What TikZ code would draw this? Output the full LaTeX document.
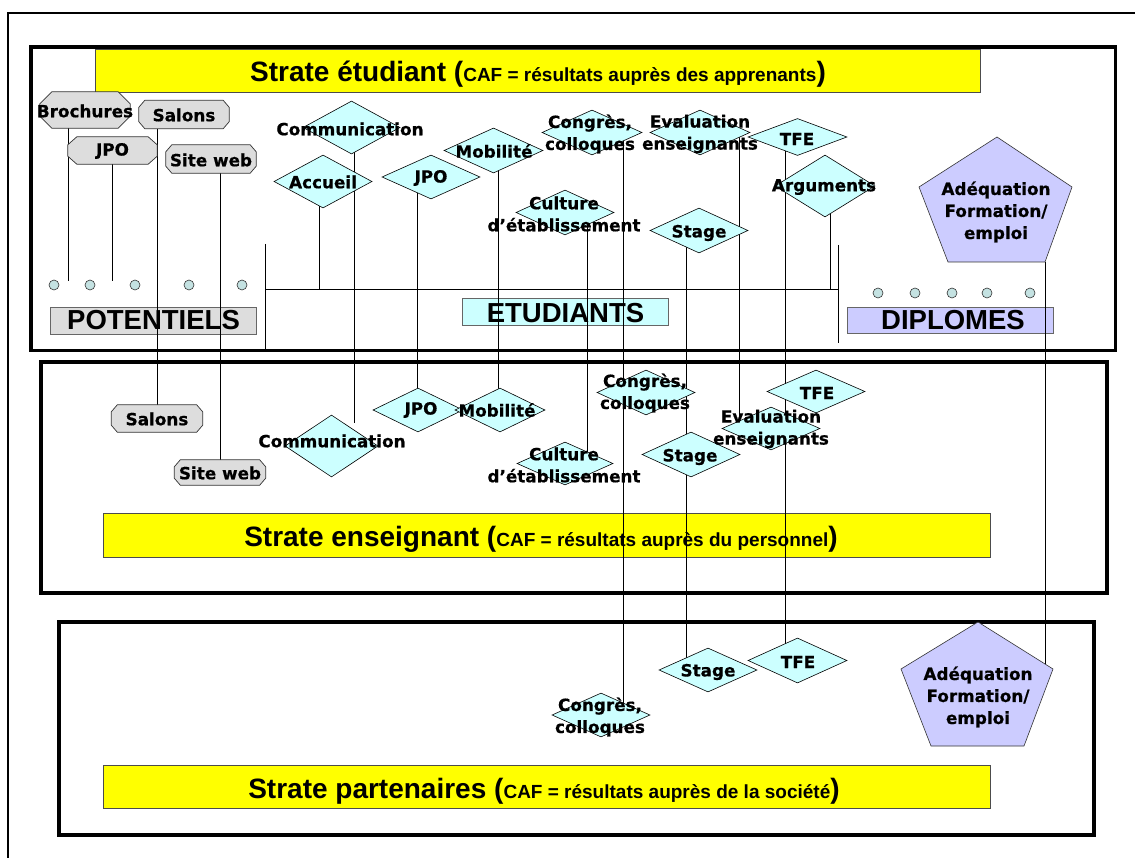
\documentclass[tikz,border=0pt]{standalone}
\usepackage{fontspec}
\setmainfont{Liberation Sans}
\newfontfamily\labfont{DejaVu Sans Bold}[FakeBold=0.6]
\usetikzlibrary{shapes.geometric,calc}
\pgfdeclarelayer{back}
\pgfdeclarelayer{mid}
\pgfsetlayers{back,mid,main}

\definecolor{barfill}{HTML}{FFFF00}
\definecolor{cyanfill}{HTML}{CCFFFF}
\definecolor{greyfill}{HTML}{DDDDDD}
\definecolor{lavfill}{HTML}{CCCCFF}
\definecolor{dotfill}{HTML}{C4E2E2}

\tikzset{
  frame/.style={line width=3.8pt, draw=black},
  titlebar/.style={fill=barfill, draw=black!70, line width=0.8pt},
  titletext/.style={anchor=base, inner sep=0pt, font=\fontsize{28}{30}\selectfont\bfseries},
  bigbox/.style={draw=black!60, line width=0.8pt, inner sep=0pt, anchor=north west},
  bigtext/.style={anchor=base, inner sep=0pt, font=\fontsize{27.5}{30}\selectfont\bfseries},
  link/.style={line width=0.8pt, draw=black},
  choice/.style={diamond, draw=black, line width=0.6pt, fill=cyanfill, inner sep=0pt},
  lab/.style={inner sep=0pt, align=center, font=\labfont\fontsize{16.8}{22}\selectfont},
  medium/.style={rectangle, inner sep=0pt},
  mediumline/.style={draw=black!80, line width=0.7pt, fill=greyfill},
  pentshape/.style={draw=black!80, line width=0.6pt, fill=lavfill},
  dot/.style={circle, draw=black!80, line width=0.6pt, fill=dotfill, inner sep=0pt, minimum size=10pt},
}
\newcommand{\smallcaf}{\fontsize{19}{20}\selectfont}
\newcommand{\bigcaf}{\fontsize{28}{30}\selectfont}
% octagonal outline around a node: #1 node, #2 horizontal cut, #3 vertical cut
\newcommand{\octoframe}[3]{%
  \path[mediumline] ($(#1.north west)+(#2,0)$) -- ($(#1.north east)+(-#2,0)$)
    -- ($(#1.north east)+(0,#3)$) -- ($(#1.south east)+(0,-#3)$)
    -- ($(#1.south east)+(-#2,0)$) -- ($(#1.south west)+(#2,0)$)
    -- ($(#1.south west)+(0,-#3)$) -- ($(#1.north west)+(0,#3)$) -- cycle;}

\begin{document}
\begin{tikzpicture}[x=1pt,y=-1pt]
\useasboundingbox (0,0) rectangle (1135,858);

% ---------- frames, title bars and audience boxes ----------
\begin{pgfonlayer}{back}
  \draw[line width=1.5pt] (8,880) -- (8,13) -- (1160,13);
  \draw[frame] (31,47) rectangle (1115.5,350.5);
  \draw[frame] (41,362) rectangle (1107,593);
  \draw[frame] (59,622) rectangle (1094,835);

  \draw[titlebar] (95,49) rectangle (980,92);
  \draw[titlebar] (103,513) rectangle (990,557);
  \draw[titlebar] (103,765) rectangle (990,808);

  \node[titletext] (title1) at (538,82) {Strate étudiant (\smallcaf CAF = résultats auprès des apprenants\bigcaf)};
  \node[titletext] (title2) at (541,546.5) {Strate enseignant (\smallcaf CAF = résultats auprès du personnel\bigcaf)};
  \node[titletext] (title3) at (544,798) {Strate partenaires (\smallcaf CAF = résultats auprès de la société\bigcaf)};

  \node[bigbox, fill=greyfill, minimum width=206pt, minimum height=27pt] (potbox) at (50,307) {};
  \node[bigtext] (pot) at (153.5,330) {POTENTIELS};
  \node[bigbox, fill=cyanfill, minimum width=206pt, minimum height=27pt] (etubox) at (462,298) {};
  \node[bigtext] (etu) at (565.5,322.5) {ETUDIANTS};
  \node[bigbox, fill=lavfill, minimum width=206pt, minimum height=26pt] (dipbox) at (847,307) {};
  \node[bigtext] (dip) at (953,330) {DIPLOMES};
\end{pgfonlayer}

% ---------- media (octagons) ----------
\node[medium, minimum width=90pt, minimum height=36pt] (brochA) at (85,110) {};
\octoframe{brochA}{12}{12}
\node[lab] (brochA-t) at (85,111) {Brochures};
\node[medium, minimum width=90pt, minimum height=28pt] (salA) at (184,114.5) {};
\octoframe{salA}{6}{7}
\node[lab] (salA-t) at (184,115) {Salons};
\node[medium, minimum width=89pt, minimum height=27pt] (jpoO) at (112.5,150.5) {};
\octoframe{jpoO}{9}{8}
\node[lab] (jpoO-t) at (112.5,151) {JPO};
\node[medium, minimum width=90pt, minimum height=28pt] (siteA) at (211,159) {};
\octoframe{siteA}{6}{7}
\node[lab] (siteA-t) at (211,160) {Site web};
\node[medium, minimum width=91pt, minimum height=27pt] (salB) at (157,418.5) {};
\octoframe{salB}{6}{7}
\node[lab] (salB-t) at (157,419) {Salons};
\node[medium, minimum width=91pt, minimum height=25pt] (siteB) at (220,472.5) {};
\octoframe{siteB}{6}{7}
\node[lab] (siteB-t) at (220,473) {Site web};

% ---------- actions, student stratum ----------
\node[choice, minimum width=97pt, minimum height=53pt] (comA) at (351.5,127.5) {};
\node[lab] (comA-t) at (350,129) {Communication};
\node[choice, minimum width=98pt, minimum height=53pt] (accA) at (323,181.5) {};
\node[lab] (accA-t) at (323,182) {Accueil};
\node[choice, minimum width=98pt, minimum height=44pt] (jpoA) at (431,177) {};
\node[lab] (jpoA-t) at (431,178) {JPO};
\node[choice, minimum width=99pt, minimum height=45pt] (mobA) at (493.5,150.5) {};
\node[lab] (mobA-t) at (494,151) {Mobilité};
\node[choice, minimum width=100pt, minimum height=45pt] (conA) at (592,132.5) {};
\node[lab] (conA-t) at (590,134) {Congrès,\\colloques};
\node[choice, minimum width=100pt, minimum height=45pt] (evaA) at (700,132.5) {};
\node[lab] (evaA-t) at (700,134) {Evaluation\\enseignants};
\node[choice, minimum width=99pt, minimum height=37pt] (tfeA) at (797.5,137) {};
\node[lab] (tfeA-t) at (797,139) {TFE};
\node[choice, minimum width=100pt, minimum height=62pt] (argA) at (825,186) {};
\node[lab] (argA-t) at (824,187) {Arguments};
\node[choice, minimum width=98pt, minimum height=45pt] (culA) at (565,212.5) {};
\node[lab] (culA-t) at (564,214) {Culture\\d’établissement};
\node[choice, minimum width=98pt, minimum height=45pt] (staA) at (699,230.5) {};
\node[lab] (staA-t) at (699,233) {Stage};

% ---------- actions, teacher stratum ----------
\node[choice, minimum width=93pt, minimum height=62pt] (comB) at (331.5,446) {};
\node[lab] (comB-t) at (332,441) {Communication};
\node[choice, minimum width=90pt, minimum height=44pt] (jpoB) at (418,410) {};
\node[lab] (jpoB-t) at (421,410) {JPO};
\node[choice, minimum width=90pt, minimum height=44pt] (mobB) at (500,410) {};
\node[lab] (mobB-t) at (497,410) {Mobilité};
\node[choice, minimum width=96pt, minimum height=43pt] (culB) at (565,463.5) {};
\node[lab] (culB-t) at (564,465) {Culture\\d’établissement};
\node[choice, minimum width=98pt, minimum height=45pt] (conB) at (646,392.5) {};
\node[lab] (conB-t) at (645,393) {Congrès,\\colloques};
\node[choice, minimum width=98pt, minimum height=45pt] (staB) at (691,454.5) {};
\node[lab] (staB-t) at (690,457) {Stage};
\node[choice, minimum width=98pt, minimum height=43pt] (tfeB) at (816,391.5) {};
\node[lab] (tfeB-t) at (817,393) {TFE};
\node[choice, minimum width=98pt, minimum height=43pt] (evaB) at (771,428.5) {};
\node[lab] (evaB-t) at (771,429) {Evaluation\\enseignants};

% ---------- actions, partner stratum ----------
\node[choice, minimum width=98pt, minimum height=44pt] (staC) at (708,670) {};
\node[lab] (staC-t) at (708,672) {Stage};
\node[choice, minimum width=99pt, minimum height=45pt] (tfeC) at (797.5,660.5) {};
\node[lab] (tfeC-t) at (798,662) {TFE};
\node[choice, minimum width=98pt, minimum height=44pt] (conC) at (601,715) {};
\node[lab] (conC-t) at (600,717) {Congrès,\\colloques};

% ---------- employability pentagons ----------
\coordinate (adA-br) at (1045,262);
\draw[pentshape] (997,137) -- (1072,187) -- (adA-br) -- (948,262) -- (919,187) -- cycle;
\node[lab] (adA) at (996,212) {Adéquation\\Formation/\\emploi};
\coordinate (adB-r) at (1045,664);
\draw[pentshape] (978,622) -- (1053,669) -- (1024,746) -- (931,746) -- (901,669) -- cycle;
\node[lab] (adB) at (978,697) {Adéquation\\Formation/\\emploi};

% ---------- population markers ----------
\foreach \i/\px in {1/54,2/90,3/135,4/189,5/242}
  \node[dot] (pdot\i) at (\px,285) {};
\foreach \i/\px in {1/878,2/915,3/952,4/987,5/1030}
  \node[dot] (ddot\i) at (\px,293) {};

% ---------- connectors ----------
\coordinate (brochFoot) at (68,281);
\coordinate (jpoFoot) at (112,281);
\coordinate (busL) at (265,289);
\coordinate (busR) at (838,289);
\coordinate (busLtop) at (265,244);
\coordinate (busLbot) at (265,350);
\coordinate (busRtop) at (838,245);
\coordinate (busRbot) at (838,343);
\coordinate (accFoot) at (319,289);
\coordinate (argFoot) at (830,289);

\begin{pgfonlayer}{mid}
  \draw[link] ([xshift=-17pt]brochA.south) -- (brochFoot);
  \draw[link] ([xshift=-0.5pt]jpoO.south) -- (jpoFoot);
  \draw[link] ([xshift=-27pt]salA.south) -- (salB.north);
  \draw[link] ([xshift=9pt]siteA.south) -- (siteB.north);

  \draw[link] (busLtop) -- (busLbot);
  \draw[link] (busRtop) -- (busRbot);
  \draw[link] (busL) -- (busR);
  \draw[link] ([xshift=-4pt]accA.center) -- (accFoot);
  \draw[link] ([xshift=5pt]argA.center) -- (argFoot);

  \draw[link] ([xshift=2.5pt]comA.center) -- ([xshift=22.5pt,yshift=23pt]comB.center);
  \draw[link] ([xshift=-14pt]jpoA.center) -- ([xshift=-1pt]jpoB.center);
  \draw[link] ([xshift=4.5pt]mobA.center) -- ([xshift=-2pt]mobB.center);
  \draw[link] ([xshift=22pt]culA.center) -- ([xshift=22pt]culB.center);
  \draw[link] ([xshift=31pt]conA.center) -- ([xshift=22pt]conC.center);
  \draw[link] ([xshift=39pt]evaA.center) -- ([xshift=-32pt]evaB.center);
  \draw[link] ([xshift=-13pt]staA.center) -- ([xshift=-22pt]staC.center);
  \draw[link] ([xshift=-12.5pt]tfeA.center) -- ([xshift=-12.5pt]tfeC.center);
  \draw[link] (adA-br) -- (adB-r);
\end{pgfonlayer}
\end{tikzpicture}
\end{document}
